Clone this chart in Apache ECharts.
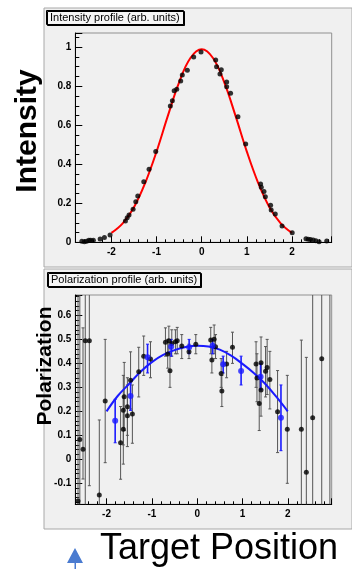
<!DOCTYPE html>
<html><head><meta charset="utf-8">
<script src="https://cdn.jsdelivr.net/npm/echarts@6/dist/echarts.min.js"></script>
<style>html,body{margin:0;padding:0;background:#fff;}#c{width:352px;height:569px;}</style>
</head><body><div id="c"></div>
<script>
// ---------- Intensity profile (top) ----------
const intensityPoints = [
 [-2.655,0.005],[-2.60,0.003],[-2.55,0.006],[-2.50,0.010],[-2.46,0.010],[-2.40,0.010],[-2.25,0.017],[-2.155,0.024],[-2.03,0.037],
 [-1.69,0.109],[-1.65,0.126],[-1.61,0.14],[-1.52,0.169],[-1.46,0.208],[-1.416,0.237],[-1.283,0.311],[-1.166,0.374],[-1.018,0.465],
 [-0.695,0.699],[-0.65,0.726],[-0.61,0.777],[-0.553,0.785],[-0.465,0.827],[-0.43,0.858],[-0.318,0.882],[-0.177,0.950],[-0.015,0.976],
 [0.31,0.935],[0.33,0.90],[0.405,0.863],[0.434,0.884],[0.553,0.822],[0.553,0.798],[0.64,0.764],[0.803,0.644],[0.975,0.504],
 [1.305,0.299],[1.32,0.282],[1.38,0.26],[1.41,0.234],[1.527,0.19],[1.54,0.166],[1.63,0.145],[1.78,0.084],[2.005,0.049],
 [2.31,0.018],[2.36,0.015],[2.41,0.014],[2.47,0.012],[2.53,0.008],[2.60,0.003],[2.77,0.007]
];
const intensityFitX = [-2,-1.75,-1.5,-1.25,-1,-0.75,-0.5,-0.25,0,0.25,0.5,0.75,1,1.25,1.5,1.75,2];
const intensityFitY = [0.048,0.097,0.18,0.305,0.465,0.648,0.82,0.945,0.99,0.945,0.82,0.648,0.465,0.305,0.18,0.097,0.048];

// ---------- Polarization profile (bottom) ----------
// [x, y, errLow, errHigh]
const polBlack = [
 [-2.63,-0.174,-0.6,0.9],[-2.59,0.083,-0.5,0.9],[-2.52,0.042,-0.082,0.548],[-2.47,0.494,-0.3,1.2],[-2.38,0.494,-0.11,1.1],
 [-2.16,-0.149,-0.5,0.164],[-2.03,0.243,-0.014,0.5],[-1.69,0.069,-0.083,0.22],[-1.63,0.125,-0.02,0.26],[-1.63,0.205,0.06,0.35],
 [-1.61,0.261,0.12,0.404],[-1.54,0.182,0.053,0.31],[-1.54,0.219,0.1,0.34],[-1.47,0.33,0.21,0.448],[-1.43,0.189,0.067,0.31],
 [-1.29,0.365,0.26,0.467],[-1.18,0.43,0.35,0.514],[-1.03,0.418,0.34,0.49],[-0.70,0.488,0.43,0.548],[-0.65,0.439,0.38,0.50],
 [-0.625,0.494,0.44,0.555],[-0.60,0.369,0.30,0.44],[-0.56,0.483,0.43,0.54],[-0.48,0.49,0.44,0.54],[-0.44,0.494,0.44,0.55],
 [-0.34,0.472,0.42,0.52],[-0.18,0.448,0.42,0.48],[-0.03,0.48,0.44,0.52],[0.30,0.497,0.44,0.55],[0.375,0.501,0.44,0.56],
 [0.406,0.469,0.42,0.52],[0.325,0.414,0.36,0.47],[0.53,0.358,0.30,0.42],[0.545,0.285,0.22,0.35],[0.65,0.397,0.34,0.45],
 [0.78,0.467,0.40,0.53],[1.30,0.397,0.30,0.49],[1.32,0.339,0.24,0.44],[1.37,0.233,0.12,0.34],[1.41,0.403,0.29,0.51],
 [1.41,0.289,0.18,0.40],[1.51,0.367,0.26,0.47],[1.545,0.383,0.27,0.50],[1.605,0.333,0.21,0.45],[1.775,0.198,0.028,0.37],
 [1.99,0.125,-0.1,0.35],[2.30,0.125,-0.3,0.497],[2.41,-0.054,-0.4,0.425],[2.55,0.173,-0.4,0.75],[2.75,0.419,-0.4,0.9],
 [2.93,0.8,-0.5,2.0]
];
const polBlue = [
 [-1.81,0.161,0.069,0.25],[-1.47,0.264,0.204,0.318],[-1.095,0.425,0.36,0.48],[-0.574,0.469,0.43,0.50],[-0.177,0.467,0.44,0.50],
 [0.34,0.473,0.44,0.50],[0.574,0.396,0.36,0.43],[0.97,0.368,0.31,0.43],[1.40,0.344,0.29,0.40],[1.85,0.173,0.036,0.31]
];
const polFitX = [-2,-1.75,-1.5,-1.25,-1,-0.75,-0.5,-0.25,0,0.25,0.5,0.75,1,1.25,1.5,1.75,2];
const polFitY = [0.20,0.265,0.315,0.365,0.405,0.435,0.455,0.468,0.473,0.47,0.457,0.432,0.398,0.36,0.315,0.26,0.20];

const zipXY = (xs, ys) => xs.map((x, i) => [x, ys[i]]);

function errRender(color, width, capHalf) {
  return function (params, api) {
    const cs = params.coordSys;
    const x = api.value(0), lo = api.value(2), hi = api.value(3);
    const pl = api.coord([x, lo]), ph = api.coord([x, hi]);
    const top = cs.y, bot = cs.y + cs.height;
    let y1 = Math.min(Math.max(pl[1], top), bot);
    let y2 = Math.min(Math.max(ph[1], top), bot);
    const ch = [{type:'line', shape:{x1:pl[0], y1:y1, x2:pl[0], y2:y2}, style:{stroke:color, lineWidth:width}}];
    if (pl[1] >= top && pl[1] <= bot) ch.push({type:'line', shape:{x1:pl[0]-capHalf, y1:pl[1], x2:pl[0]+capHalf, y2:pl[1]}, style:{stroke:color, lineWidth:1}});
    if (ph[1] >= top && ph[1] <= bot) ch.push({type:'line', shape:{x1:ph[0]-capHalf, y1:ph[1], x2:ph[0]+capHalf, y2:ph[1]}, style:{stroke:color, lineWidth:1}});
    return {type:'group', children: ch};
  };
}

const lblFont = {fontFamily:'Liberation Sans Narrow, Liberation Sans, sans-serif', fontWeight:'bold', fontSize:10, color:'#000'};
function xAx(grid, min, max) {
  return {type:'value', gridIndex:grid, min:min, max:max, splitNumber:5,
    axisLine:{show:true, onZero:false, lineStyle:{color:'#000', width:1}},
    axisTick:{show:true, inside:true, length:6, lineStyle:{color:'#000'}},
    minorTick:{show:true, splitNumber:5, length:3, lineStyle:{color:'#000'}},
    splitLine:{show:false},
    axisLabel:Object.assign({margin:5, showMinLabel:false, showMaxLabel:false}, lblFont)};
}

const chart = echarts.init(document.getElementById('c'), null, {renderer:'canvas'});
chart.setOption({
  animation:false,
  backgroundColor:'#ffffff',
  graphic:[
    {type:'rect', z:-10, shape:{x:44, y:8, width:308, height:259}, style:{fill:'#f0f0f0', stroke:'#a8a8a8', lineWidth:1}},
    {type:'rect', z:-10, shape:{x:44, y:269, width:308, height:260}, style:{fill:'#f0f0f0', stroke:'#a8a8a8', lineWidth:1}},
    {type:'text', x:28, y:131, rotation:Math.PI/2, style:{text:'Intensity', fontSize:30, fontWeight:'bold', fontFamily:'Liberation Sans, Arial, sans-serif', fill:'#000', textAlign:'center', textVerticalAlign:'middle'}},
    {type:'text', x:45.5, y:366, rotation:Math.PI/2, style:{text:'Polarization', fontSize:21, fontWeight:'bold', fontFamily:'Liberation Sans, Arial, sans-serif', fill:'#000', textAlign:'center', textVerticalAlign:'middle'}},
    {type:'text', x:219, y:549, style:{text:'Target Position', fontSize:36, fontWeight:'normal', fontFamily:'Liberation Sans, sans-serif', fill:'#000', textAlign:'center', textVerticalAlign:'middle'}},
    {type:'polygon', shape:{points:[[75,548],[67,563],[83,563]]}, style:{fill:'#4a7bd0'}},
    {type:'rect', shape:{x:74.5, y:563, width:1.5, height:6}, style:{fill:'#4a7bd0'}}
  ],
  title:[
    {text:'Intensity profile (arb. units)', left:46, top:10, padding:[1,4], borderWidth:1, borderColor:'#000', backgroundColor:'#f6f6f6',
     shadowColor:'#000', shadowOffsetX:1, shadowOffsetY:1, shadowBlur:0,
     textStyle:{fontSize:11, lineHeight:13, fontWeight:'normal', fontFamily:'Liberation Sans Narrow, Liberation Sans, sans-serif', color:'#000'}},
    {text:'Polarization profile (arb. units)', left:47, top:272, padding:[1,4], borderWidth:1, borderColor:'#000', backgroundColor:'#f6f6f6',
     shadowColor:'#000', shadowOffsetX:1, shadowOffsetY:1, shadowBlur:0,
     textStyle:{fontSize:11, lineHeight:13, fontWeight:'normal', fontFamily:'Liberation Sans Narrow, Liberation Sans, sans-serif', color:'#000'}}
  ],
  grid:[
    {left:75.3, top:33, width:256.4, height:209.3, show:true, backgroundColor:'#f0f0f0', borderColor:'#909090', borderWidth:1},
    {left:75.3, top:295, width:256.4, height:209.3, show:true, backgroundColor:'#f0f0f0', borderColor:'#909090', borderWidth:1}
  ],
  xAxis:[ xAx(0, -2.80, 2.88), xAx(1, -2.69, 2.97) ],
  yAxis:[
    {type:'value', gridIndex:0, min:0, max:1.073, interval:0.2,
     axisLine:{show:true, onZero:false, lineStyle:{color:'#000'}},
     axisTick:{show:true, inside:true, length:7, lineStyle:{color:'#000'}},
     minorTick:{show:true, splitNumber:4, length:4, lineStyle:{color:'#000'}},
     splitLine:{show:false},
     axisLabel:Object.assign({margin:4, showMaxLabel:false}, lblFont)},
    {type:'value', gridIndex:1, min:-0.1875, max:0.685, splitNumber:8,
     axisLine:{show:true, onZero:false, lineStyle:{color:'#000'}},
     axisTick:{show:true, inside:true, length:7, lineStyle:{color:'#000'}},
     minorTick:{show:true, splitNumber:5, length:4, lineStyle:{color:'#000'}},
     splitLine:{show:false},
     axisLabel:Object.assign({margin:4, showMinLabel:false, showMaxLabel:false}, lblFont)}
  ],
  series:[
    {type:'line', xAxisIndex:0, yAxisIndex:0, data:zipXY(intensityFitX, intensityFitY), smooth:0.4, showSymbol:false,
     lineStyle:{color:'#ff0000', width:2}, z:3},
    {type:'scatter', xAxisIndex:0, yAxisIndex:0, data:intensityPoints, symbol:'circle', symbolSize:5,
     itemStyle:{color:'#000'}, z:4},
    {type:'custom', xAxisIndex:1, yAxisIndex:1, data:polBlack, renderItem:errRender('#555', 1, 1.5), z:2},
    {type:'custom', xAxisIndex:1, yAxisIndex:1, data:polBlue, renderItem:errRender('#1a1aff', 1.6, 1.5), z:3},
    {type:'line', xAxisIndex:1, yAxisIndex:1, data:zipXY(polFitX, polFitY), smooth:0.4, showSymbol:false,
     lineStyle:{color:'#1a1aff', width:2}, z:4},
    {type:'scatter', xAxisIndex:1, yAxisIndex:1, data:polBlack.map(d=>[d[0],d[1]]), symbol:'circle', symbolSize:5,
     itemStyle:{color:'#000'}, z:5, clip:true},
    {type:'scatter', xAxisIndex:1, yAxisIndex:1, data:polBlue.map(d=>[d[0],d[1]]), symbol:'circle', symbolSize:6,
     itemStyle:{color:'#1a1aff'}, z:6, clip:true}
  ]
});
</script></body></html>
